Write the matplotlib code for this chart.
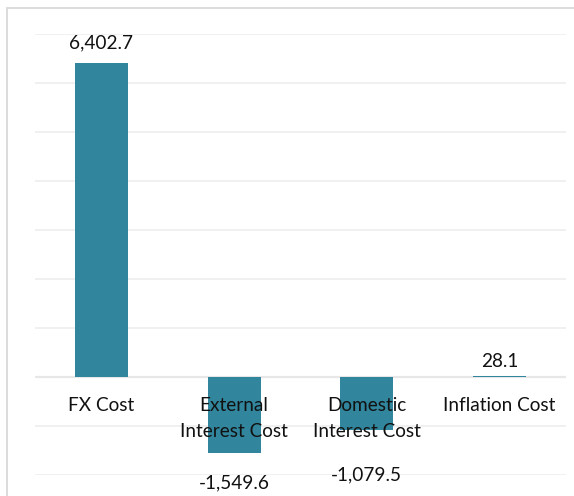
import matplotlib.pyplot as plt
from matplotlib.patches import Rectangle

categories = ["FX Cost", "External\nInterest Cost", "Domestic\nInterest Cost", "Inflation Cost"]
values = [6402.7, -1549.6, -1079.5, 28.1]

bar_color = "#31859C"
label_offsets = [20, -30, -45, 14]  # pixel offset of value labels from bar ends

plt.rcParams["font.family"] = ["Lato", "DejaVu Sans"]

fig = plt.figure(figsize=(5.74, 4.96), dpi=100)
fig.patch.set_facecolor("white")

# chart frame (runs off the right and bottom edges)
fig.patches.append(Rectangle((7 / 574, -0.1), 1.2, 1 - 7.5 / 496 + 0.1,
                             transform=fig.transFigure, fill=False,
                             edgecolor="#D9D9D9", lw=1.3))

ax = fig.add_axes([35 / 574, 21 / 496, 531 / 574, 441 / 496])
x = list(range(len(categories)))
ax.bar(x, values, width=0.4, color=bar_color, zorder=2)

ax.set_xlim(-0.5, 3.5)
ax.set_ylim(-2000, 7000)
ax.set_yticks(range(-2000, 7001, 1000))
ax.yaxis.grid(True, color="#EDEDED", lw=1.2, zorder=0)
ax.axhline(0, color="#CACACA", lw=1.5, zorder=1)
ax.tick_params(left=False, bottom=False, labelleft=False, labelbottom=False)
for s in ax.spines.values():
    s.set_visible(False)

for i, (cat, v) in enumerate(zip(categories, values)):
    ax.annotate(cat, (i, 0), xytext=(0, -20), textcoords="offset pixels",
                ha="center", va="top", fontsize=13.7, color="#111111",
                linespacing=1.62, zorder=3)
    ax.annotate(f"{v:,.1f}", (i, v), xytext=(0, label_offsets[i]),
                textcoords="offset pixels", ha="center", va="center",
                fontsize=13.7, color="#111111", zorder=3)

fig.savefig("out.png", dpi=100)
